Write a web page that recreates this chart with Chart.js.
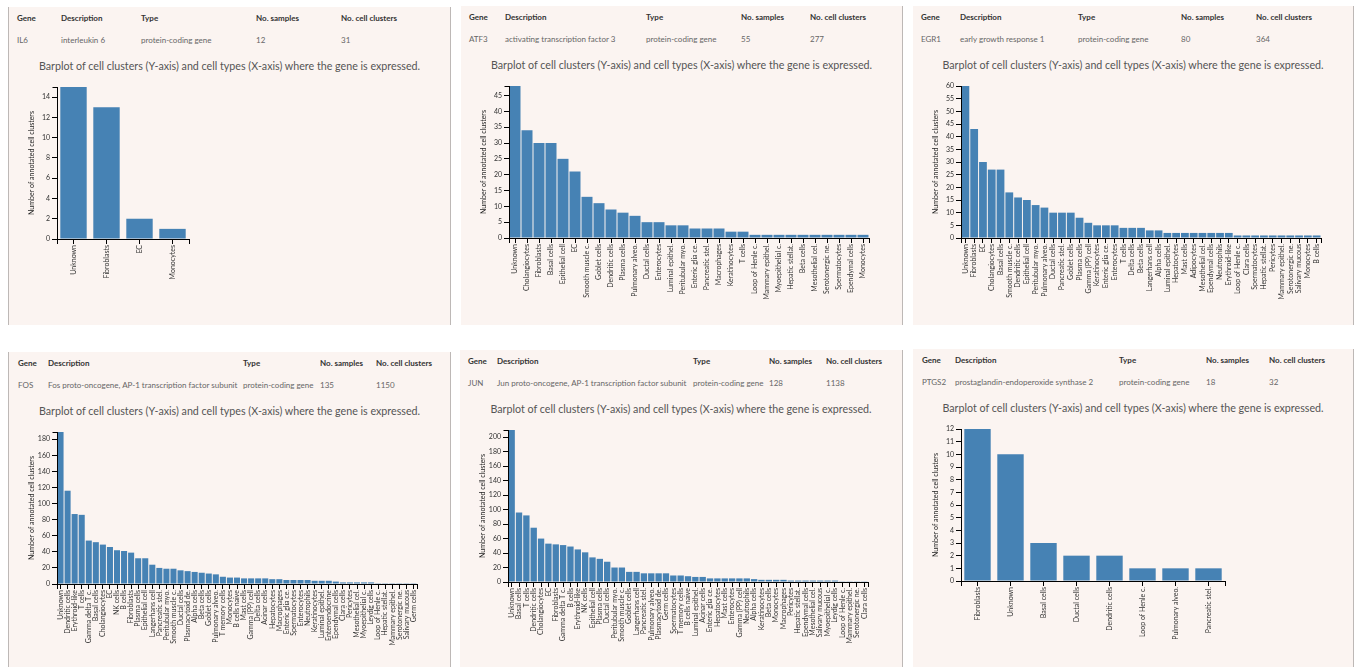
<!DOCTYPE html>
<html>
<head>
<meta charset="utf-8">
<script src="https://cdn.jsdelivr.net/npm/chart.js@4.4.1/dist/chart.umd.min.js"></script>
<style>
  body { margin: 0; background: #fff; width: 1355px; height: 667px; overflow: hidden; position: relative;
         font-family: Lato, 'Open Sans', sans-serif; }
  .panel { position: absolute; background: #fbf4f1; border-right: 1px solid #bdb8b6; overflow: hidden; }
  .cell { position: absolute; font-size: 8px; line-height: 10px; white-space: nowrap; color: #666; }
  .hd { font-weight: bold; color: #333; }
  .title { position: absolute; left: 0; right: 0; text-align: center; font-size: 10.7px; line-height: 14px; color: #555; }
  canvas { position: absolute; left: 0; }
</style>
</head>
<body>
<script>
// gene summary rows
const headerLabels = ['Gene', 'Description', 'Type', 'No. samples', 'No. cell clusters']
const geneSymbols = ['IL6', 'ATF3', 'EGR1', 'FOS', 'JUN', 'PTGS2']
const geneDescriptions = [
  'interleukin 6',
  'activating transcription factor 3',
  'early growth response 1',
  'Fos proto-oncogene, AP-1 transcription factor subunit',
  'Jun proto-oncogene, AP-1 transcription factor subunit',
  'prostaglandin-endoperoxide synthase 2'
]
const geneTypes = ['protein-coding gene', 'protein-coding gene', 'protein-coding gene',
  'protein-coding gene', 'protein-coding gene', 'protein-coding gene']
const geneSamples = [12, 55, 80, 135, 128, 18]
const geneClusterTotals = [31, 277, 364, 1150, 1138, 32]
const yTickSteps = [2, 5, 5, 20, 20, 1]

// cell types (x) and cluster counts (y) per gene
const il6Types = ['Unknown', 'Fibroblasts', 'EC', 'Monocytes']
const il6Counts = [15, 13, 2, 1]

const atf3Types = ['Unknown', 'Cholangiocytes', 'Fibroblasts', 'Basal cells', 'Epithelial cell', 'EC',
  'Smooth muscle c.', 'Goblet cells', 'Dendritic cells', 'Plasma cells', 'Pulmonary alveo.', 'Ductal cells',
  'Enterocytes', 'Luminal epithel.', 'Peritubular myo.', 'Enteric glia ce.', 'Pancreatic stel.', 'Macrophages',
  'Keratinocytes', 'T cells', 'Loop of Henle c.', 'Mammary epithel.', 'Myoepithelial c.', 'Hepatic stellat.',
  'Beta cells', 'Mesothelial cel.', 'Serotonergic ne.', 'Spermatocytes', 'Ependymal cells', 'Monocytes']
const atf3Counts = [48, 34, 30, 30, 25, 21, 13, 11, 9, 8, 7, 5, 5, 4, 4, 3, 3, 3, 2, 2, 1, 1, 1, 1, 1, 1, 1, 1, 1, 1]

const egr1Types = ['Unknown', 'Fibroblasts', 'EC', 'Cholangiocytes', 'Basal cells', 'Smooth muscle c.',
  'Dendritic cells', 'Epithelial cell', 'Peritubular myo.', 'Pulmonary alveo.', 'Ductal cells', 'Pancreatic stel.',
  'Goblet cells', 'Plasma cells', 'Gamma (PP) cell', 'Keratinocytes', 'Enteric glia ce.', 'Enterocytes', 'T cells',
  'Delta cells', 'Beta cells', 'Langerhans cell', 'Alpha cells', 'Luminal epithel.', 'Hepatocytes', 'Mast cells',
  'Adipocytes', 'Mesothelial cel.', 'Ependymal cells', 'Neutrophils', 'Erythroid-like', 'Loop of Henle c.',
  'Clara cells', 'Spermatocytes', 'Hepatic stellat.', 'Pericytes', 'Mammary epithel.', 'Serotonergic ne.',
  'Salivary mucous', 'Monocytes', 'B cells']
const egr1Counts = [60, 43, 30, 27, 27, 18, 16, 15, 13, 12, 10, 10, 10, 8, 6, 5, 5, 5, 4, 4, 4, 3, 3,
  2, 2, 2, 2, 2, 2, 2, 2, 1, 1, 1, 1, 1, 1, 1, 1, 1, 1]

const fosTypes = ['Unknown', 'Dendritic cells', 'Erythroid-like', 'T cells', 'Gamma delta T c.', 'Basal cells',
  'Cholangiocytes', 'EC', 'NK cells', 'B cells', 'Fibroblasts', 'Plasma cells', 'Epithelial cell', 'Langerhans cell',
  'Pancreatic stel.', 'Peritubular myo.', 'Smooth muscle c.', 'Ductal cells', 'Plasmacytoid de.', 'Alpha cells',
  'Beta cells', 'Goblet cells', 'Pulmonary alveo.', 'T memory cells', 'Monocytes', 'B cells naive', 'Mast cells',
  'Gamma (PP) cell', 'Delta cells', 'Acinar cells', 'Hepatocytes', 'Macrophages', 'Enteric glia ce.',
  'Spermatocytes', 'Enterocytes', 'Neutrophils', 'Keratinocytes', 'Luminal epithel.', 'Enteroendocrine',
  'Ependymal cells', 'Clara cells', 'Pericytes', 'Mesothelial cel.', 'Myoepithelial c.', 'Leydig cells',
  'Loop of Henle c.', 'Hepatic stellat.', 'Mammary epithel.', 'Serotonergic ne.', 'Salivary mucous', 'Germ cells']
const fosCounts = [189, 116, 87, 86, 54, 52, 49, 46, 42, 41, 39, 32, 32, 24, 20, 19, 19, 17, 16, 15, 14, 13, 12,
  9, 8, 8, 7, 7, 7, 7, 6, 6, 5, 5, 5, 5, 4, 4, 4, 3, 2, 2, 2, 2, 2, 1, 1, 1, 1, 1, 1]

const junTypes = ['Unknown', 'Basal cells', 'T cells', 'Dendritic cells', 'Cholangiocytes', 'EC', 'Fibroblasts',
  'Gamma delta T c.', 'B cells', 'Erythroid-like', 'NK cells', 'Epithelial cell', 'Plasma cells', 'Ductal cells',
  'Peritubular myo.', 'Smooth muscle c.', 'Goblet cells', 'Langerhans cell', 'Pancreatic stel.', 'Pulmonary alveo.',
  'Plasmacytoid de.', 'Germ cells', 'Spermatocytes', 'T memory cells', 'B cells naive', 'Luminal epithel.',
  'Acinar cells', 'Enteric glia ce.', 'Hepatocytes', 'Mast cells', 'Enterocytes', 'Gamma (PP) cell', 'Neutrophils',
  'Alpha cells', 'Keratinocytes', 'Beta cells', 'Monocytes', 'Macrophages', 'Pericytes', 'Hepatic stellat.',
  'Ependymal cells', 'Mesothelial cel.', 'Salivary mucous', 'Myoepithelial c.', 'Leydig cells', 'Loop of Henle c.',
  'Mammary epithel.', 'Serotonergic ne.', 'Clara cells']
const junCounts = [210, 96, 92, 75, 60, 53, 52, 51, 49, 45, 41, 34, 32, 28, 20, 20, 14, 14, 12, 12, 12, 12, 9, 9,
  8, 7, 7, 5, 5, 5, 5, 5, 5, 4, 3, 3, 3, 3, 2, 2, 2, 2, 2, 2, 2, 1, 1, 1, 1]

const ptgs2Types = ['Fibroblasts', 'Unknown', 'Basal cells', 'Ductal cells', 'Dendritic cells', 'Loop of Henle c.',
  'Pulmonary alveo.', 'Pancreatic stel.']
const ptgs2Counts = [12, 10, 3, 2, 2, 1, 1, 1]

const panelTypes = [il6Types, atf3Types, egr1Types, fosTypes, junTypes, ptgs2Types]
const panelCounts = [il6Counts, atf3Counts, egr1Counts, fosCounts, junCounts, ptgs2Counts]

// layout of each card: box + left edge of each table column
const panelBoxes = [
  { left: 8, top: 7, width: 441, height: 318, cols: [8, 52, 132, 247, 332] },
  { left: 461, top: 6, width: 441, height: 319, cols: [8, 44, 185, 280, 349] },
  { left: 913, top: 6, width: 440, height: 319, cols: [8, 47, 165, 268, 343] },
  { left: 8, top: 352, width: 441, height: 320, cols: [9, 39, 234, 311, 367] },
  { left: 460, top: 350, width: 442, height: 320, cols: [8, 37, 233, 309, 366] },
  { left: 913, top: 349, width: 440, height: 320, cols: [9, 42, 206, 293, 356] }
]

Chart.defaults.font.family = "Lato, 'Open Sans', sans-serif"

// d3-like outer ticks at the ends of both domains
const outerTicks = {
  id: 'outerTicks',
  afterDraw (chart) {
    const { ctx, chartArea: a } = chart
    const l = Math.round(a.left) + 0.5
    const r = Math.round(a.right) + 0.5
    const t = Math.round(a.top) + 0.5
    ctx.save()
    ctx.strokeStyle = '#000'
    ctx.lineWidth = 1
    ctx.beginPath()
    ctx.moveTo(l, a.top); ctx.lineTo(l, a.bottom)
    ctx.moveTo(l - 5, t); ctx.lineTo(l, t)
    ctx.moveTo(r, a.bottom); ctx.lineTo(r, a.bottom + 5)
    ctx.moveTo(l, a.bottom); ctx.lineTo(l, a.bottom + 5)
    ctx.stroke()
    ctx.restore()
  }
}

function addCell (panel, text, x, y, cls) {
  const s = document.createElement('div')
  s.className = cls
  s.textContent = text
  s.style.left = x + 'px'
  s.style.top = y + 'px'
  panel.appendChild(s)
}

function makeChart (panel, labels, values, step) {
  const n = labels.length
  const plotW = Math.min(33 * n, 360)
  const padLeft = 19
  const axisW = 29
  const plotTop = 8
  const plotH = 152
  const cw = padLeft + axisW + plotW + 10
  const ch = 245
  const band = plotW / n

  const canvas = document.createElement('canvas')
  canvas.width = cw
  canvas.height = ch
  canvas.style.top = '72px'
  panel.appendChild(canvas)

  new Chart(canvas, {
    type: 'bar',
    data: {
      labels,
      datasets: [{
        data: values,
        backgroundColor: '#4682b4',
        borderWidth: 0,
        categoryPercentage: 1,
        barPercentage: n <= 10 ? 0.8 : (band - 1) / band
      }]
    },
    options: {
      responsive: false,
      animation: false,
      layout: { padding: { left: padLeft, right: 10, top: plotTop, bottom: 0 } },
      plugins: { legend: { display: false }, tooltip: { enabled: false } },
      scales: {
        x: {
          offset: true,
          grid: { drawOnChartArea: false, offset: false, tickLength: 5, color: '#000' },
          border: { color: '#000' },
          ticks: { autoSkip: false, minRotation: 90, maxRotation: 90, padding: 1, color: '#333', font: { size: 7 } },
          afterFit: s => { s.height = ch - plotTop - plotH }
        },
        y: {
          min: 0,
          max: Math.max(...values),
          grid: { drawOnChartArea: false, tickLength: 5, color: '#000' },
          border: { color: '#000' },
          ticks: {
            stepSize: step,
            includeBounds: false,
            padding: 2,
            color: '#333',
            font: { size: 7 }
          },
          title: { display: true, text: 'Number of annotated cell clusters', color: '#222', font: { size: 7 }, padding: 0 },
          afterFit: s => { s.width = axisW }
        }
      }
    },
    plugins: [outerTicks]
  })
}

panelBoxes.forEach((box, i) => {
  const panel = document.createElement('div')
  panel.className = 'panel'
  panel.style.left = box.left + 'px'
  panel.style.top = box.top + 'px'
  panel.style.width = box.width + 'px'
  panel.style.height = box.height + 'px'
  if (box.left < 100) panel.style.borderLeft = '1px solid #bdb8b6'
  document.body.appendChild(panel)

  const row = [geneSymbols[i], geneDescriptions[i], geneTypes[i], geneSamples[i], geneClusterTotals[i]]
  headerLabels.forEach((h, c) => {
    addCell(panel, h, box.cols[c], 6, 'cell hd')
    addCell(panel, row[c], box.cols[c], 28, 'cell')
  })

  const title = document.createElement('div')
  title.className = 'title'
  title.style.top = '52px'
  title.textContent = 'Barplot of cell clusters (Y-axis) and cell types (X-axis) where the gene is expressed.'
  panel.appendChild(title)

  makeChart(panel, panelTypes[i], panelCounts[i], yTickSteps[i])
})
</script>
</body>
</html>
